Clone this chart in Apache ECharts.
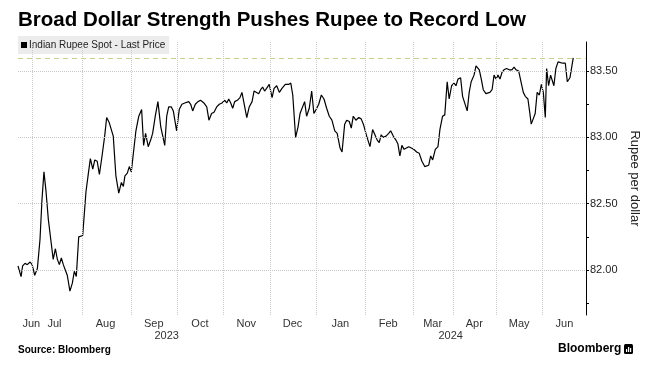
<!DOCTYPE html>
<html>
<head>
<meta charset="utf-8">
<script src="https://cdn.jsdelivr.net/npm/echarts@6/dist/echarts.min.js"></script>
<style>
html,body{margin:0;padding:0;background:#fff;}
#chart{width:657px;height:366px;}
</style>
</head>
<body>
<div id="chart"></div>
<script>
// x = trading-day index since the start of the series (late June 2023)
const days = [0,1.4,2.1,3.2,4.2,5.5,6.4,7.6,8.8,10,10.9,11.8,12.7,13.8,14.9,16,17,17.9,18.8,19.7,20.6,21.5,22.4,23.6,24.7,25.6,26.5,27.6,29.4,30.9,32,32.9,34,34.9,36,37,38.2,39.4,40.3,41.5,42.4,43.3,44.5,45.8,47,47.9,48.6,
49.7,50.6,51.5,52.4,53.6,54.9,56.2,57.1,58,59.2,60.3,61.2,62.4,63.6,64.9,65.8,66.7,67.6,68.5,69.7,70.6,72.1,73.3,74.5,75.8,76.7,77.6,78.5,79.4,80.6,81.8,83,84.5,85.8,86.8,88,89.1,90.3,91.5,92.7,94,94.9,95.8,96.7,97.6,98.5,
99.7,100.9,101.8,102.7,104,105.1,106.4,107.3,108.2,109.4,110.3,111.2,112.1,113,114.2,115.5,116.4,117.6,118.8,120,121.5,123,124,124.9,126.2,127.3,128.2,129.1,130.3,131.2,132.4,133.5,134.5,135.5,136.7,137.9,139.1,140.3,141.5,142.7,144,145.1,146.4,147.3,
148.5,149.4,150.6,151.5,152.4,153.6,154.9,156,157,158.5,160,161.2,162.1,163.3,164.2,165.1,166,167.3,168.5,169.4,170.6,171.8,172.7,173.6,174.5,175.5,176.4,177.6,178.8,180,181.2,182.4,183.6,184.9,185.8,186.7,187.6,188.5,189.7,190.9,191.8,193,194,195.1,196,
197.1,198.2,199.1,200,201.2,202.1,203,204.2,205.1,206,207.3,208.2,208.8,209.7,210.6,211.5,212.7,213.6,214.5,215.5,216.4,217.3,218.2,219.1,220,220.9,222.1,223.3,224.5,225.5,226.4,227.6,228.5,229.7,230.6,231.8,232.7,233.3,234.2,235.1,236,237,237.9,238.8,239.7,240.3,241.2,242.1,243,243.6,244.5,245.5,246.4,247.6,248.8,249.7,250.9,251.8,252.4];

const rupee = [82.03,81.95,82.03,82.05,82.04,82.06,82.04,81.96,82.01,82.23,82.53,82.74,82.60,82.38,82.23,82.08,82.16,82.08,82.04,82.09,82.04,82.00,81.96,81.84,81.90,81.99,81.95,82.25,82.26,82.59,82.73,82.84,82.76,82.83,82.82,82.72,82.86,83.01,83.15,83.11,83.11,83.01,82.71,82.58,82.66,82.63,82.71,
82.73,82.78,82.74,82.73,83.05,83.16,83.21,82.94,83.03,82.93,82.98,83.03,83.16,83.27,83.08,83.09,82.94,83.16,83.23,83.23,83.20,83.05,83.21,83.25,83.26,83.25,83.27,83.25,83.20,83.25,83.27,83.28,83.26,83.23,83.13,83.18,83.19,83.23,83.25,83.26,83.28,83.26,83.29,83.26,83.22,83.27,
83.28,83.30,83.34,83.33,83.15,83.23,83.27,83.35,83.36,83.33,83.36,83.38,83.35,83.37,83.40,83.30,83.37,83.39,83.34,83.37,83.40,83.40,83.41,83.32,83.00,83.08,83.18,83.18,83.27,83.16,83.22,83.35,83.18,83.21,83.25,83.32,83.29,83.22,83.16,83.13,83.05,83.03,82.92,82.89,
83.10,83.13,83.12,83.07,83.16,83.13,83.15,83.14,83.10,83.01,82.93,83.06,83.05,82.98,82.96,83.02,83.00,83.01,83.03,83.05,83.01,82.98,82.95,82.86,82.94,82.91,82.90,82.93,82.92,82.91,82.89,82.88,82.82,82.78,82.77,82.79,82.86,82.83,82.91,82.93,83.06,83.16,83.17,83.42,83.29,
83.39,83.41,83.39,83.44,83.45,83.31,83.32,83.20,83.34,83.42,83.47,83.54,83.55,83.51,83.44,83.36,83.33,83.32,83.34,83.36,83.47,83.44,83.47,83.44,83.49,83.51,83.52,83.51,83.51,83.53,83.51,83.50,83.50,83.34,83.31,83.29,83.18,83.10,83.14,83.18,83.34,83.32,83.40,83.34,83.15,83.52,83.39,83.47,83.46,83.39,83.52,83.57,83.56,83.56,83.56,83.42,83.45,83.54,83.60];

const monthStarts = [6.6, 29.0, 51.6, 72.2, 93.4, 114.8, 135.8, 158.0, 179.5, 198.0, 217.6, 238.5];
const monthLabels = ['Jun','Jul','Aug','Sep','Oct','Nov','Dec','Jan','Feb','Mar','Apr','May','Jun'];
const monthLabelPos = [6.05, 16.6, 39.8, 61.7, 82.7, 103.8, 124.8, 146.5, 168.3, 188.5, 207.4, 227.8, 248.4];
const yearLabels = ['2023','2024'];
const yearLabelPos = [67.6, 196.7];
const yTickLabels = [82.0, 82.5, 83.0, 83.5];
const yTicks = [81.75, 82.0, 82.25, 82.5, 82.75, 83.0, 83.25, 83.5];
const lastPrice = 83.60;

const FONT = 'Liberation Sans';
const X_MIN = 0, X_MAX = 258.2;

function lookup(pos, labels, v){
  let best = 0, bd = Infinity;
  pos.forEach((p,i)=>{ const d = Math.abs(p - v); if (d < bd){ bd = d; best = i; } });
  return labels[best];
}

const gridStyle = {type: 'dotted', color: '#c8c8c8', width: 1};

const chart = echarts.init(document.getElementById('chart'), null, {renderer:'canvas'});
chart.setOption({
  animation: false,
  backgroundColor: '#ffffff',
  title: {
    text: 'Broad Dollar Strength Pushes Rupee to Record Low',
    left: 13, top: 5,
    textStyle: {fontFamily: FONT, fontSize: 20.5, fontWeight: 'bold', color: '#000'}
  },
  legend: {
    left: 18, top: 36,
    backgroundColor: '#ececec',
    padding: [4, 4, 4, 3],
    borderRadius: 0,
    icon: 'rect', itemWidth: 6, itemHeight: 6,
    textStyle: {fontFamily: FONT, fontSize: 10, color: '#222', padding: [0, 0, 0, -3]},
    data: [{name: 'Indian Rupee Spot - Last Price', itemStyle: {color: '#000'}}]
  },
  grid: {left: 18, right: 71, top: 42, bottom: 51, containLabel: false, outerBoundsMode: 'none'},
  xAxis: [{
    type: 'value', min: X_MIN, max: X_MAX,
    axisLine: {show: false}, axisTick: {show: false}, splitLine: {show: false},
    axisLabel: {
      customValues: monthLabelPos, margin: 3,
      fontFamily: FONT, fontSize: 11, color: '#333',
      formatter: v => lookup(monthLabelPos, monthLabels, v)
    }
  }, {
    type: 'value', min: X_MIN, max: X_MAX, position: 'bottom',
    axisLine: {show: false}, axisTick: {show: false}, splitLine: {show: false},
    axisLabel: {
      customValues: yearLabelPos, margin: 15,
      fontFamily: FONT, fontSize: 11, color: '#333',
      formatter: v => lookup(yearLabelPos, yearLabels, v)
    }
  }],
  yAxis: {
    type: 'value', position: 'right', min: 81.66, max: 83.72,
    name: 'Rupee per dollar', nameLocation: 'middle', nameRotate: -90, nameGap: 41,
    nameTextStyle: {fontFamily: FONT, fontSize: 13, color: '#222'},
    axisLine: {show: true, onZero: false, lineStyle: {color: '#000', width: 1}},
    axisTick: {show: true, customValues: yTicks, length: 3, lineStyle: {color: '#000'}},
    axisLabel: {
      customValues: yTickLabels, margin: 4,
      fontFamily: FONT, fontSize: 11, color: '#222',
      formatter: v => v.toFixed(2)
    },
    splitLine: {show: false}
  },
  series: [{
    name: 'Indian Rupee Spot - Last Price',
    type: 'line',
    xAxisIndex: 0,
    data: days.map((d, i) => [d, rupee[i]]),
    showSymbol: false, symbol: 'none',
    lineStyle: {color: '#000', width: 1.2},
    itemStyle: {color: '#000'},
    z: 3,
    markLine: {
      silent: true, symbol: ['none', 'none'], animation: false,
      label: {show: false},
      data: monthStarts.map(m => ({xAxis: m, lineStyle: {type: 'dotted', color: '#cccccc', width: 1}}))
        .concat(yTickLabels.map(v => ({yAxis: v, lineStyle: gridStyle})))
        .concat([{yAxis: lastPrice, lineStyle: {type: [5, 4], color: '#c9d08f', width: 1}}])
    }
  }],
  graphic: [
    {type: 'text', left: 18, top: 345, style: {text: 'Source: Bloomberg', font: 'bold 10px "Liberation Sans"', fill: '#000'}},
    {type: 'text', left: 558, top: 343, style: {text: 'Bloomberg', font: 'bold 12px "Liberation Sans"', fill: '#000'}},
    {type: 'group', left: 624, top: 344, children: [
      {type: 'rect', shape: {x: 0, y: 0, width: 9, height: 10, r: 1.5}, style: {fill: '#000'}},
      {type: 'rect', shape: {x: 2, y: 5, width: 1.2, height: 3}, style: {fill: '#fff'}},
      {type: 'rect', shape: {x: 4, y: 3, width: 1.2, height: 5}, style: {fill: '#fff'}},
      {type: 'rect', shape: {x: 6, y: 4, width: 1.2, height: 4}, style: {fill: '#fff'}}
    ]}
  ]
});
</script>
</body>
</html>
